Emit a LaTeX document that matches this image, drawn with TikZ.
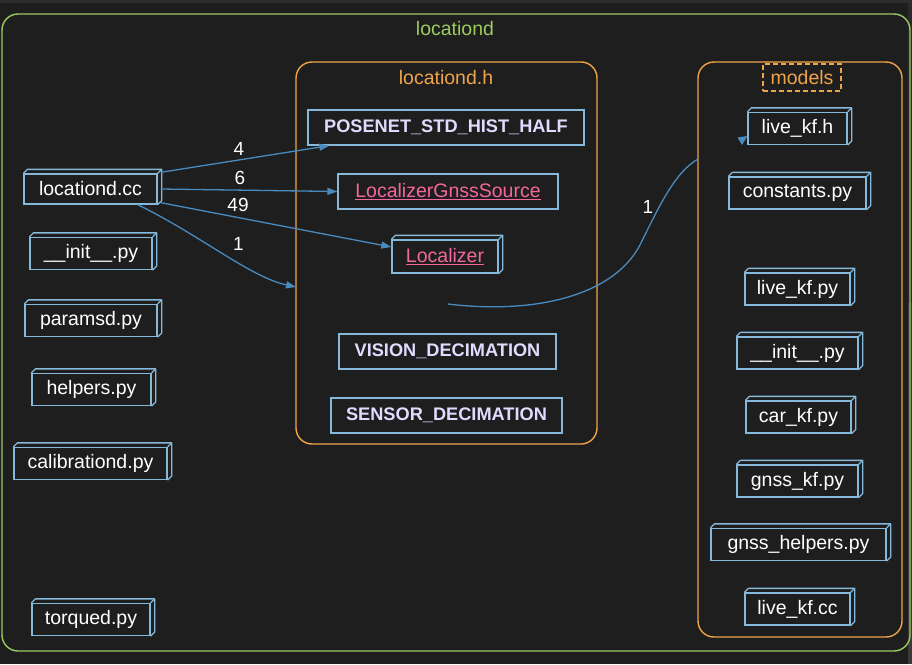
\documentclass[tikz,border=0pt]{standalone}
\usepackage{fontspec}
\setmainfont{Liberation Sans}
\usetikzlibrary{arrows.meta}
\definecolor{bg}{HTML}{1E1E1E}
\definecolor{topband}{HTML}{2E2E2E}
\definecolor{sidebar}{HTML}{2A2A2A}
\definecolor{scroll}{HTML}{3A3A3A}
\definecolor{grn}{HTML}{9CCB5E}
\definecolor{org}{HTML}{EFA44A}
\definecolor{nline}{HTML}{86B8DA}
\definecolor{eline}{HTML}{4A8BBF}
\definecolor{lav}{HTML}{E2DAFF}
\definecolor{pink}{HTML}{F4679C}
\tikzset{
  fnode/.style={draw=nline, line width=1.3pt, fill=bg, text=white, inner sep=0pt,
    minimum height=32pt, font=\fontsize{19.5}{23}\selectfont},
  mnode/.style={fnode, minimum height=35pt, text=lav, font=\fontsize{18.2}{22}\selectfont\bfseries},
  cnode/.style={fnode, minimum height=35pt, text=pink},
  clusterbox/.style={line width=1.4pt, rounded corners=16pt},
  ctitle/.style={inner sep=0pt, font=\fontsize{19.5}{22}\selectfont},
  edge/.style={draw=eline, line width=1.3pt, -{Triangle[length=10pt,width=7pt]}},
  elabel/.style={inner sep=0pt, text=white, font=\fontsize{19}{22}\selectfont}
}
\newcommand{\pinkul}[1]{\textcolor{pink}{\underline{#1}}}
\begin{document}
\begin{tikzpicture}[x=1pt,y=-1pt]
\fill[bg] (0,0) rectangle (912,664);
\useasboundingbox (0,0) rectangle (912,664);
\fill[topband] (0,0) rectangle (912,3);
\fill[sidebar] (908,3) rectangle (912,664);
\fill[scroll] (908,303) rectangle (912,664);

% clusters
\draw[clusterbox, draw=grn] (2,14) rectangle (910,651);
\node[ctitle, text=grn] (tmain) at (455,29) {locationd};
\draw[clusterbox, draw=org] (296,62) rectangle (597,444);
\node[ctitle, text=org] (th) at (446,78) {locationd.h};
\draw[clusterbox, draw=org] (698,62) rectangle (902,637);
\node[ctitle, text=org, draw=org, dashed, dash pattern=on 5pt off 3pt, line width=2pt,
  minimum width=78pt, minimum height=27pt] (tmodels) at (802,77.5) {models};

% left column files
\node[fnode, minimum width=133pt, minimum height=30pt] (cc) at (90.5,189) {locationd.cc};
\node[fnode, minimum width=122pt] (initA) at (91,253.5) {\_\_init\_\_.py};
\node[fnode, minimum width=132pt] (paramsd) at (91,320.5) {paramsd.py};
\node[fnode, minimum width=119pt] (helpers) at (91.5,389.5) {helpers.py};
\node[fnode, minimum width=153pt] (calib) at (90.5,463.5) {calibrationd.py};
\node[fnode, minimum width=118pt] (torqued) at (91,619.5) {torqued.py};

% models
\node[fnode, minimum width=99pt] (livekfh) at (797.5,128.5) {live\_kf.h};
\node[fnode, minimum width=137pt] (constants) at (797.5,193) {constants.py};
\node[fnode, minimum width=105pt] (livekfpy) at (797.5,289) {live\_kf.py};
\node[fnode, minimum width=121pt] (initB) at (797.5,353) {\_\_init\_\_.py};
\node[fnode, minimum width=105pt] (carkf) at (798.5,417) {car\_kf.py};
\node[fnode, minimum width=121pt] (gnsskf) at (797.5,481) {gnss\_kf.py};
\node[fnode, minimum width=175pt] (gnsshelp) at (798.5,544.5) {gnss\_helpers.py};
\node[fnode, minimum width=105pt] (livekfcc) at (797.5,609) {live\_kf.cc};

% locationd.h
\node[mnode, minimum width=276pt] (posenet) at (446,127.5) {POSENET\_STD\_HIST\_HALF};
\node[cnode, minimum width=220pt] (lgs) at (448,191.5) {\pinkul{LocalizerGnssSource}};
\node[cnode, minimum width=106pt, minimum height=33pt] (loc) at (445,256.5) {\pinkul{Localizer}};
\node[mnode, minimum width=217pt] (vision) at (447.5,351.5) {VISION\_DECIMATION};
\node[mnode, minimum width=231pt] (sensor) at (446.5,415.5) {SENSOR\_DECIMATION};

% 3d faces
\foreach \n in {cc,initA,paramsd,helpers,calib,torqued,livekfh,constants,livekfpy,initB,carkf,gnsskf,gnsshelp,livekfcc,loc}{
  \draw[nline, line width=1.3pt, line join=round]
    (\n.north west) -- ([shift={(4pt,4pt)}]\n.north west) -- ([shift={(4pt,4pt)}]\n.north east)
    -- ([shift={(4pt,4pt)}]\n.south east) -- (\n.south east);
  \draw[nline, line width=1.3pt] (\n.north east) -- ([shift={(4pt,4pt)}]\n.north east);
}

% edges
\draw[edge] ([shift={(3pt,1pt)}]cc.north east) -- ([xshift=22pt]posenet.south west);
\draw[edge] ([xshift=3pt]cc.east) -- (lgs.west);
\draw[edge] ([shift={(3pt,2pt)}]cc.south east) -- ([yshift=9.5pt]loc.west);
\coordinate (hin) at (296,287);
\draw[edge] ([xshift=-20pt]cc.south east) .. controls (200,235) and (250,277) .. (hin);
\node[elabel] (l4) at (239,149) {4};
\node[elabel] (l6) at (240,178) {6};
\node[elabel] (l49) at (238,205) {49};
\node[elabel] (l1a) at (238.5,244) {1};

\coordinate (lsrc) at (448,304);
\coordinate (mdin) at (698,159);
\draw[eline, line width=1.3pt] (lsrc) .. controls (530,314) and (612,298) .. (640,245)
  .. controls (662,200) and (676,172) .. (mdin);
\node[elabel] (l1b) at (648,207) {1};
\fill[eline] (737.5,137.5) -- (747.5,136) -- (742,145) -- cycle;
\end{tikzpicture}
\end{document}
